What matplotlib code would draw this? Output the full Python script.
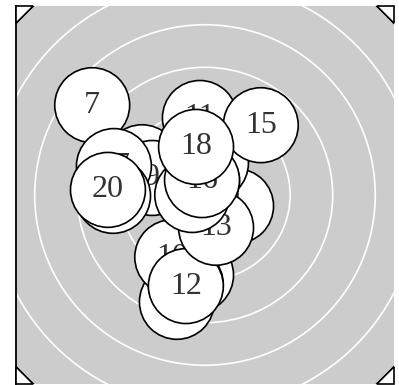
import numpy as np
import matplotlib.pyplot as plt
from matplotlib.patches import Circle, Polygon

# tiros sobre el blanco (unidades = ancho de anillo), en orden de disparo
numeros = list(range(1, 21))
tiro_x = [0.73, -0.66, -0.21, -1.48, -0.45, 0.14, -2.65, -0.07, -1.24, -0.77,
          -0.12, -0.45, 0.26, -0.30, 1.31, -0.07, -2.14, -0.21, -2.16, -2.28]
tiro_y = [-0.26, -2.51, -1.88, 0.77, -2.10, 0.75, 2.11, 0.33, 0.40, -1.46,
          1.81, -2.14, -0.77, 0.00, 1.64, 0.35, 0.68, 1.13, -0.02, 0.12]
anillos = [1, 2, 3, 4, 5]
radio_blanco = 6.0
radio_tiro = 0.88
limite = 4.44

fig = plt.figure(figsize=(3.99, 3.85), dpi=100)
ax = fig.add_axes([16 / 399, 1 / 385, 378 / 399, 378 / 385])
ax.set_xlim(-limite, limite)
ax.set_ylim(-limite, limite)
ax.set_facecolor('white')
ax.set_xticks([])
ax.set_yticks([])
for lado in ['top', 'right', 'bottom']:
    ax.spines[lado].set_visible(False)
ax.spines['left'].set_linewidth(1.3)

# fondo del blanco
ax.add_patch(Circle((0, 0), radio_blanco, facecolor='#cccccc', edgecolor='black', lw=1.2, zorder=1))
for r in anillos:
    ax.add_patch(Circle((0, 0), r, facecolor='none', edgecolor='white', lw=1.2, zorder=2))

# esquinas que quedan fuera del círculo
pata = limite - np.sqrt(radio_blanco**2 - limite**2)
for sx in (-1, 1):
    for sy in (-1, 1):
        cx, cy = sx * limite, sy * limite
        tri = Polygon([(cx, cy), (cx - sx * pata, cy), (cx, cy - sy * pata)],
                      closed=True, facecolor='white', edgecolor='black', lw=1.2,
                      zorder=3, clip_on=False)
        ax.add_patch(tri)

# tiros
for i, (n, x, y) in enumerate(zip(numeros, tiro_x, tiro_y)):
    z = 10 + 2 * i
    ax.add_patch(Circle((x, y), radio_tiro, facecolor='white', edgecolor='black', lw=1.2, zorder=z))
    ax.text(x, y, str(n), ha='center', va='center', fontsize=23,
            family='Liberation Serif', color='#333333', zorder=z + 1)

fig.savefig('out.png', dpi=100)
